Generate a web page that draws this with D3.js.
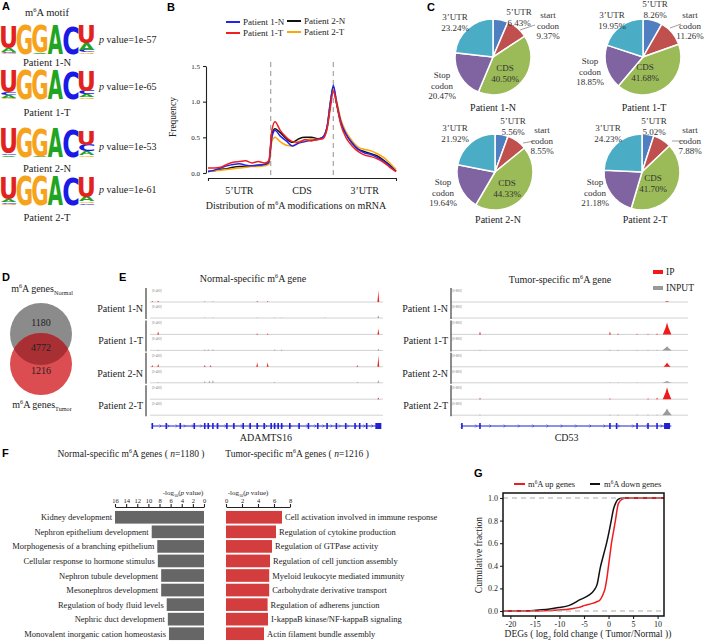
<!DOCTYPE html>
<html>
<head>
<meta charset="utf-8">
<script src="https://cdnjs.cloudflare.com/ajax/libs/d3/7.8.5/d3.min.js"></script>
<style>
  body { margin: 0; background: #fff; }
  svg { display: block; font-family: 'Liberation Serif', 'Times New Roman', serif; }
  text { fill: #222; }
  .tag { font-family: 'Liberation Sans', Arial, sans-serif; font-weight: bold; font-size: 11px; fill: #000; }
</style>
</head>
<body>
<div id="chart"></div>
<script>
// ---- A: motif logos, stacks listed bottom to top (share of column height)
var logoNames   = ['Patient 1-N', 'Patient 1-T', 'Patient 2-N', 'Patient 2-T'];
var logoPvalues = ['1e-57', '1e-65', '1e-53', '1e-61'];
var logo1N = [[['G',0.04],['C',0.04],['A',0.12],['U',0.78]], [['G',1]], [['A',0.04],['G',0.96]], [['A',1]], [['C',1]], [['G',0.06],['C',0.08],['A',0.22],['U',0.62]]];
var logo1T = [[['G',0.04],['A',0.08],['C',0.1],['U',0.76]], [['G',1]], [['G',1]], [['A',1]], [['C',1]], [['G',0.06],['A',0.1],['C',0.12],['U',0.7]]];
var logo2N = [[['A',0.06],['C',0.06],['U',0.86]], [['G',1]], [['A',0.03],['G',0.97]], [['A',1]], [['C',1]], [['G',0.06],['A',0.14],['C',0.22],['U',0.5]]];
var logo2T = [[['G',0.04],['C',0.05],['A',0.1],['U',0.79]], [['G',1]], [['G',1]], [['A',1]], [['C',1]], [['C',0.06],['G',0.06],['A',0.16],['U',0.68]]];

// ---- B: metagene profile (x in region units: 0-1 5'UTR, 1-2 CDS, 2-3 3'UTR)
var metaX  = [0,0.1,0.2,0.3,0.4,0.5,0.6,0.7,0.8,0.9,0.97,1.02,1.07,1.15,1.25,1.35,1.45,1.55,1.65,1.75,1.83,1.9,1.95,2.0,2.05,2.12,2.2,2.3,2.4,2.5,2.6,2.7,2.8,2.9,3.0];
var meta1N = [0.02,0.04,0.07,0.1,0.12,0.13,0.11,0.1,0.11,0.12,0.15,0.5,0.6,0.52,0.45,0.38,0.42,0.44,0.46,0.47,0.5,0.65,0.95,1.23,1.0,0.72,0.55,0.42,0.33,0.28,0.26,0.22,0.17,0.1,0.02];
var meta1T = [0.07,0.07,0.08,0.12,0.15,0.16,0.17,0.14,0.16,0.14,0.17,0.6,0.72,0.6,0.5,0.44,0.43,0.47,0.45,0.47,0.48,0.62,0.9,1.15,0.98,0.68,0.5,0.38,0.3,0.25,0.23,0.2,0.15,0.08,0.02];
var meta2N = [0.02,0.03,0.05,0.06,0.08,0.09,0.09,0.1,0.11,0.12,0.14,0.55,0.62,0.57,0.48,0.43,0.48,0.5,0.5,0.48,0.5,0.64,0.98,1.2,0.98,0.7,0.55,0.42,0.33,0.3,0.27,0.24,0.18,0.11,0.03];
var meta2T = [0.02,0.03,0.04,0.05,0.06,0.07,0.08,0.09,0.09,0.1,0.12,0.45,0.5,0.44,0.39,0.38,0.44,0.46,0.48,0.47,0.49,0.62,0.95,1.18,1.02,0.75,0.58,0.45,0.36,0.33,0.31,0.27,0.22,0.14,0.05];
var regionNames = ['5\u2019UTR', 'CDS', '3\u2019UTR'];

// ---- C: peak distribution (%), order: 5'UTR, start codon, CDS, stop codon, 3'UTR
var pieParts = ['5\u2019UTR', 'start codon', 'CDS', 'Stop codon', '3\u2019UTR'];
var pie1N = [6.43, 9.37, 40.50, 20.47, 23.24];
var pie1T = [8.26, 11.26, 41.68, 18.85, 19.95];
var pie2N = [5.56, 8.55, 44.33, 19.64, 21.92];
var pie2T = [5.02, 7.88, 41.70, 21.18, 24.23];

// ---- D: venn counts
var vennCounts = [1180, 4772, 1216];

// ---- E: IGV peaks [position 0-1, height 0-1, spread]
var adamIP = [
  [[0.01,0.08],[0.035,0.1],[0.235,0.05],[0.27,0.05],[0.46,0.08],[0.505,0.08],[0.98,1]],
  [[0.035,0.25],[0.46,0.08],[0.505,0.08],[0.98,0.5]],
  [[0.01,0.15],[0.035,0.25],[0.235,0.15],[0.26,0.15],[0.46,0.4],[0.505,0.4],[0.89,0.15],[0.98,1]],
  [[0.98,0.15]]
];
var adamInput = [
  [[0.235,0.05],[0.27,0.05],[0.46,0.05],[0.535,0.05],[0.565,0.05],[0.75,0.05],[0.98,0.25]],
  [[0.035,0.06],[0.235,0.08],[0.25,0.1],[0.27,0.1],[0.535,0.08],[0.565,0.08],[0.98,0.15]],
  [[0.035,0.06],[0.235,0.15],[0.255,0.2],[0.27,0.25],[0.535,0.08],[0.89,0.08],[0.98,0.25]],
  []
];
var cd53IP = [
  [[0.912,0.08,0.01]],
  [[0.126,0.25],[0.672,0.25],[0.706,0.08],[0.786,0.06],[0.832,0.06],[0.87,0.08],[0.912,1,0.018]],
  [[0.912,0.35,0.015]],
  [[0.126,0.12],[0.672,0.08],[0.832,0.08],[0.87,0.15],[0.912,1,0.018]]
];
var cd53Input = [
  [],
  [[0.126,0.05],[0.672,0.06],[0.706,0.06],[0.786,0.05],[0.832,0.05],[0.87,0.05],[0.912,0.35,0.02]],
  [[0.672,0.04],[0.706,0.04],[0.786,0.04],[0.912,0.15,0.02]],
  [[0.126,0.05],[0.672,0.05],[0.706,0.06],[0.786,0.05],[0.832,0.05],[0.87,0.05],[0.912,0.55,0.02]]
];
var adamExons = [0.01,0.07,0.13,0.19,0.235,0.25,0.27,0.29,0.33,0.36,0.4,0.43,0.46,0.49,0.52,0.535,0.55,0.565,0.6,0.64,0.68,0.72,0.76,0.8,0.84,0.88,0.9,0.93,0.98];
var cd53Exons = [0.05,0.126,0.672,0.7,0.786,0.832,0.87,0.912];

// ---- F: GO enrichment (-log10 p)
var normTerms  = ['Kidney development','Nephron epithelium development','Morphogenesis of a branching epithelium','Cellular response to hormone stimulus','Nephron tubule development','Mesonephros development','Regulation of body fluid levels','Nephric duct development','Monovalent inorganic cation homeostasis'];
var normValues = [16, 9.4, 8.4, 8.3, 7.7, 7.7, 6.7, 6.5, 6.3];
var tumorTerms  = ['Cell activation involved in immune response','Regulation of cytokine production','Regulation of GTPase activity','Regulation of cell junction assembly','Myeloid leukocyte mediated immunity','Carbohydrate derivative transport','Regulation of adherens junction','I-kappaB kinase/NF-kappaB signaling','Actin filament bundle assembly'];
var tumorValues = [7.0, 6.25, 5.75, 5.5, 5.4, 5.4, 5.2, 5.25, 4.75];
var normTicks  = [16,14,12,10,8,6,4,2,0];
var tumorTicks = [0,2,4,6,8];

// ---- G: cumulative distributions
var upX   = [-21.5,-14,-11.6,-9.5,-7.6,-6,-4.8,-3.5,-2.5,-1.7,-1.2,-0.7,-0.3,0,0.3,0.6,1.0,1.4,2.0,2.8,3.7,11.3];
var upY   = [0,0.001,0.005,0.01,0.02,0.032,0.05,0.065,0.08,0.1,0.14,0.2,0.3,0.4,0.5,0.6,0.7,0.8,0.95,0.99,1,1];
var downX = [-21.5,-16,-13.7,-12,-10.2,-8,-5.8,-4,-3,-2.3,-1.7,-1.0,-0.4,0.1,0.55,1.0,1.4,2.0,3,11.3];
var downY = [0,0.002,0.01,0.018,0.03,0.05,0.1,0.14,0.18,0.24,0.38,0.5,0.6,0.7,0.8,0.9,0.95,0.99,1,1];
var gTicksX = [-20,-15,-10,-5,0,5,10];
var gTicksY = [0,0.2,0.4,0.6,0.8,1];

var svg = d3.select('#chart').append('svg').attr('width', 708).attr('height', 644);
svg.append('rect').attr('width', 708).attr('height', 644).attr('fill', '#fff');

// text with sup/sub/italic pieces
var rich = function(g, x, y, parts, fs, anchor) {
  var t = g.append('text').attr('x', x).attr('y', y).attr('font-size', fs)
    .attr('text-anchor', anchor || 'start');
  var shift = 0;
  parts.forEach(function(p) {
    if (typeof p === 'string') p = {t: p};
    var target = p.sup ? -fs * 0.38 : p.sub ? fs * 0.28 : 0;
    var s = t.append('tspan').text(p.t).attr('dy', target - shift);
    shift = target;
    if (p.sup || p.sub) s.attr('font-size', fs * 0.62);
    if (p.it) s.attr('font-style', 'italic');
  });
  return t;
};
var m6A = function(before, after) {
  return [before + 'm', {t: '6', sup: true}, 'A' + after];
};
var styleAxis = function(sel, fs) {
  sel.attr('font-family', null).attr('font-size', fs);
  sel.selectAll('text').attr('fill', '#222');
  sel.selectAll('path, line').attr('stroke', '#222').attr('stroke-width', 1.1);
};
var tag = function(t, x, y) {
  svg.append('text').attr('class', 'tag').attr('x', x).attr('y', y).text(t);
};

tag('A', 2, 10); tag('B', 167, 11); tag('C', 427, 11); tag('D', 2, 281);
tag('E', 119, 281); tag('F', 2, 457); tag('G', 474, 477);

// ================= A
var gA = svg.append('g');
var letterColor = {U: '#e3221d', G: '#f6a31b', A: '#21a421', C: '#1a1ae6'};
var ctx = document.createElement('canvas').getContext('2d');
ctx.font = 'bold 100px "DejaVu Sans"';

var drawLogo = function(g, cols, x0, y0, w, h) {
  var x = d3.scaleBand().domain(d3.range(cols.length)).range([x0, x0 + w]).paddingInner(0.03);
  var y = d3.scaleLinear().domain([0, 1]).range([y0 + h, y0]);
  cols.forEach(function(stack, i) {
    var base = 0;
    stack.forEach(function(s) {
      var top = base + s[1];
      var m = ctx.measureText(s[0]);
      var iw = m.actualBoundingBoxLeft + m.actualBoundingBoxRight;
      var ih = m.actualBoundingBoxAscent + m.actualBoundingBoxDescent;
      g.append('text').text(s[0])
        .attr('x', m.actualBoundingBoxLeft).attr('y', m.actualBoundingBoxAscent)
        .attr('font-family', 'DejaVu Sans').attr('font-weight', 'bold').attr('font-size', 100)
        .style('fill', letterColor[s[0]])
        .attr('transform', 'translate(' + x(i) + ',' + y(top) + ') scale(' +
          (x.bandwidth() / iw) + ',' + ((y(base) - y(top)) / ih) + ')');
      base = top;
    });
  });
};

rich(gA, 47, 16, m6A('', ' motif'), 10.5, 'middle');
var logoTops = [25, 70, 128, 176];
var logoLabelY = [66, 116, 172, 221];
var logoPY = [43, 90, 150, 193];
[logo1N, logo1T, logo2N, logo2T].forEach(function(cols, i) {
  drawLogo(gA, cols, 1, logoTops[i], 93, 29);
  rich(gA, 47, logoLabelY[i], [logoNames[i]], 10.5, 'middle');
  rich(gA, 99, logoPY[i], [{t: 'p', it: true}, ' value=' + logoPvalues[i]], 10);
});

// ================= B
var gB = svg.append('g');
var bx = d3.scaleLinear().domain([0, 3]).range([208, 396]);
var by = d3.scaleLinear().domain([0, 1.5]).range([173, 66]);

gB.append('g').attr('transform', 'translate(206,0)')
  .call(d3.axisLeft(by).tickValues([0, 0.5, 1, 1.5]).tickFormat(d3.format('.1f')).tickSize(3).tickSizeOuter(0))
  .call(styleAxis, 7);
gB.append('g').attr('transform', 'translate(0,178)')
  .call(d3.axisBottom(bx).tickValues([0, 3]).tickFormat('').tickSize(3).tickSizeOuter(0))
  .call(styleAxis, 7);

gB.selectAll('.divider').data([1, 2]).enter().append('line')
  .attr('x1', function(d) { return bx(d); }).attr('x2', function(d) { return bx(d); })
  .attr('y1', 62).attr('y2', 178)
  .attr('stroke', '#aaa').attr('stroke-width', 1.3).attr('stroke-dasharray', '5,4');

regionNames.forEach(function(r, i) {
  rich(gB, bx(i + 0.5), 194, [r], 10, 'middle');
});
rich(gB, 296, 209, m6A('Distribution of ', ' modifications on mRNA'), 10, 'middle');
gB.append('text').attr('transform', 'translate(176,117) rotate(-90)')
  .attr('text-anchor', 'middle').attr('font-size', 9.5).text('Frequency');

var metaSeries = [
  {name: 'Patient 2-N', color: '#111', vals: meta2N},
  {name: 'Patient 2-T', color: '#ffa500', vals: meta2T},
  {name: 'Patient 1-N', color: '#2323f0', vals: meta1N},
  {name: 'Patient 1-T', color: '#ee2020', vals: meta1T}
];
var metaLine = d3.line()
  .x(function(d, i) { return bx(metaX[i]); })
  .y(function(d) { return by(d); })
  .curve(d3.curveMonotoneX);
gB.selectAll('.meta').data(metaSeries).enter().append('path')
  .attr('d', function(s) { return metaLine(s.vals); })
  .attr('fill', 'none').attr('stroke', function(s) { return s.color; }).attr('stroke-width', 1.5);

var legPos = {'Patient 1-N': [226, 22], 'Patient 1-T': [226, 33], 'Patient 2-N': [287, 21], 'Patient 2-T': [287, 32]};
metaSeries.forEach(function(s) {
  var p = legPos[s.name];
  gB.append('line').attr('x1', p[0]).attr('x2', p[0] + 14).attr('y1', p[1]).attr('y2', p[1])
    .attr('stroke', s.color).attr('stroke-width', 2);
  rich(gB, p[0] + 17, p[1] + 3, [s.name], 9);
});

// ================= C
var gC = svg.append('g');
var pieColors = ['#4f7fc0', '#c0504d', '#9bbb59', '#8064a2', '#4bacc6'];
var pieGen = d3.pie().sort(null).value(function(d) { return d; });
var pieArc = d3.arc().innerRadius(0).outerRadius(38);
var fmtPct = function(v) { return d3.format('.2f')(v) + '%'; };

var pies = [
  {name: 'Patient 1-N', vals: pie1N, c: [493, 57], label: [493, 111],
   pos: [[519, 12], [548, 15], [505, 68], [442, 75], [455, 17]], lead: [520, 30, 535, 25]},
  {name: 'Patient 1-T', vals: pie1T, c: [643, 57], label: [644, 111],
   pos: [[655, 4], [690, 15], [645, 67], [590, 61], [612, 15]], lead: [670, 28, 681, 24]},
  {name: 'Patient 2-N', vals: pie2N, c: [495, 172], label: [498, 223],
   pos: [[513, 121], [542, 130], [507, 183], [443, 182], [455, 128]], lead: [523, 143, 535, 141]},
  {name: 'Patient 2-T', vals: pie2T, c: [642, 172], label: [645, 223],
   pos: [[654, 121], [690, 130], [653, 178], [595, 182], [608, 128]], lead: [672, 141, 685, 141]}
];

pies.forEach(function(p) {
  var g = gC.append('g').attr('transform', 'translate(' + p.c[0] + ',' + p.c[1] + ')');
  g.selectAll('path').data(pieGen(p.vals)).enter().append('path')
    .attr('d', pieArc)
    .attr('fill', function(d, i) { return pieColors[i]; })
    .attr('stroke', '#fff').attr('stroke-width', 1.5);
  gC.append('line').attr('x1', p.lead[0]).attr('y1', p.lead[1]).attr('x2', p.lead[2]).attr('y2', p.lead[3])
    .attr('stroke', '#888').attr('stroke-width', 0.8);
  p.vals.forEach(function(v, i) {
    var lines = pieParts[i].split(' ').concat([fmtPct(v)]);
    lines.forEach(function(l, j) {
      gC.append('text').attr('x', p.pos[i][0]).attr('y', p.pos[i][1] + 3 + j * 10.5)
        .attr('text-anchor', 'middle').attr('font-size', 9).style('fill', '#333').text(l);
    });
  });
  rich(gC, p.label[0], p.label[1], [p.name], 10, 'middle');
});

// ================= D
var gD = svg.append('g');
gD.append('clipPath').attr('id', 'clipNormal').append('circle')
  .attr('cx', 41).attr('cy', 334).attr('r', 31);
gD.append('circle').attr('cx', 41).attr('cy', 334).attr('r', 31).attr('fill', '#8b8b8b');
gD.append('circle').attr('cx', 41).attr('cy', 364).attr('r', 31).attr('fill', '#db4d50');
gD.append('circle').attr('cx', 41).attr('cy', 364).attr('r', 31).attr('fill', '#a83034')
  .attr('clip-path', 'url(#clipNormal)');
var vennY = [326, 351, 374];
vennCounts.forEach(function(v, i) {
  rich(gD, 41, vennY[i], [String(v)], 10, 'middle');
});
rich(gD, 42, 292, ['m', {t: '6', sup: true}, 'A genes', {t: 'Normal', sub: true}], 10, 'middle');
rich(gD, 42, 408, ['m', {t: '6', sup: true}, 'A genes', {t: 'Tumor', sub: true}], 10, 'middle');

// ================= E
var gE = svg.append('g');
var peakH = d3.scaleLinear().domain([0, 1]).range([0, 12]);

var drawTracks = function(x0, x1, ipSets, inSets, scaleText, labelX, exons, geneName, geneFrom, geneTo, chevStep) {
  var tx = d3.scaleLinear().domain([0, 1]).range([x0, x1]);
  logoNames.forEach(function(name, i) {
    var base = 302 + i * 32.4;
    [[ipSets[i], base, '#f01a1a'], [inSets[i], base + 16, '#999']].forEach(function(tr) {
      gE.append('text').attr('x', x0 + 2).attr('y', tr[1] - 10).attr('font-size', 3.2)
        .style('fill', '#777').text(scaleText);
      gE.append('line').attr('x1', x0).attr('x2', x1).attr('y1', tr[1]).attr('y2', tr[1])
        .attr('stroke', '#d2d2d2').attr('stroke-width', 1);
      gE.selectAll(null).data(tr[0]).enter().append('path')
        .attr('d', function(d) {
          var cx = tx(d[0]), w = d[2] ? tx(d[2]) - tx(0) : 0.9, h = peakH(d[1]), b = tr[1];
          return 'M' + (cx - w) + ',' + b + 'L' + (cx - w * 0.35) + ',' + (b - h * 0.55) +
            'L' + cx + ',' + (b - h) + 'L' + (cx + w * 0.3) + ',' + (b - h * 0.6) +
            'L' + (cx + w) + ',' + b + 'Z';
        })
        .attr('fill', tr[2]);
    });
    gE.append('line').attr('x1', labelX + 3).attr('x2', labelX + 3)
      .attr('y1', base - 14).attr('y2', base + 17)
      .attr('stroke', '#666').attr('stroke-width', 1.5);
    rich(gE, labelX, base + 10, [name], 10, 'end');
  });
  // gene model
  var gy = 426;
  gE.append('line').attr('x1', tx(geneFrom)).attr('x2', tx(geneTo)).attr('y1', gy).attr('y2', gy)
    .attr('stroke', '#2020d0').attr('stroke-width', 1);
  gE.selectAll(null).data(d3.range(geneFrom, geneTo, chevStep)).enter().append('path')
    .attr('d', function(d) { var x = tx(d); return 'M' + (x - 1) + ',' + (gy - 1.5) + 'L' + (x + 0.5) + ',' + gy + 'L' + (x - 1) + ',' + (gy + 1.5); })
    .attr('fill', 'none').attr('stroke', '#2020d0').attr('stroke-width', 0.6);
  gE.selectAll(null).data(exons).enter().append('rect')
    .attr('x', function(d, i) { return tx(d) - (i === exons.length - 1 ? 3 : 0.8); })
    .attr('width', function(d, i) { return i === exons.length - 1 ? 6 : 1.6; })
    .attr('y', gy - 3).attr('height', 6).attr('fill', '#2020d0');
  rich(gE, (tx(geneFrom) + tx(geneTo)) / 2, 441, [geneName], 10, 'middle');
};

drawTracks(150, 383, adamIP, adamInput, '[0-400]', 143, adamExons, 'ADAMTS16', 0.01, 0.985, 0.035);
drawTracks(450, 688, cd53IP, cd53Input, '[0-800]', 448, cd53Exons, 'CD53', 0.05, 0.93, 0.06);

rich(gE, 253, 282, m6A('Normal-specific ', ' gene'), 10, 'middle');
rich(gE, 560, 283, m6A('Tumor-specific ', ' gene'), 10, 'middle');
gE.append('rect').attr('x', 653).attr('y', 270).attr('width', 10).attr('height', 4).attr('fill', '#f01a1a');
rich(gE, 666, 275, ['IP'], 9.5);
gE.append('rect').attr('x', 653).attr('y', 286).attr('width', 10).attr('height', 4).attr('fill', '#999');
rich(gE, 666, 291, ['INPUT'], 9.5);

// ================= F
var gF = svg.append('g');
rich(gF, 131, 457, ['Normal-specific m', {t: '6', sup: true}, 'A genes ( ', {t: 'n', it: true}, '=1180 )'], 9.5, 'middle');
rich(gF, 297, 457, ['Tumor-specific m', {t: '6', sup: true}, 'A genes ( ', {t: 'n', it: true}, '=1216 )'], 9.5, 'middle');

var fy = d3.scaleBand().domain(d3.range(9)).range([510, 641]).paddingInner(0.13).paddingOuter(0.065);
var fxL = d3.scaleLinear().domain([0, 16]).range([204, 115]);
var fxR = d3.scaleLinear().domain([0, 8]).range([226, 290]);

gF.append('g').attr('transform', 'translate(0,507)')
  .call(d3.axisTop(fxL).tickValues(normTicks).tickSize(3).tickSizeOuter(0).tickPadding(1))
  .call(styleAxis, 6.5);
gF.append('g').attr('transform', 'translate(0,507)')
  .call(d3.axisTop(fxR).tickValues(tumorTicks).tickSize(3).tickSizeOuter(0).tickPadding(1))
  .call(styleAxis, 6.5);
rich(gF, 183, 495, ['-log', {t: '10', sub: true}, '(', {t: 'p', it: true}, ' value)'], 7, 'middle');
rich(gF, 248, 495, ['-log', {t: '10', sub: true}, '(', {t: 'p', it: true}, ' value)'], 7, 'middle');

gF.selectAll('.barN').data(normValues).enter().append('rect')
  .attr('x', function(d) { return fxL(d); }).attr('width', function(d) { return fxL(0) - fxL(d); })
  .attr('y', function(d, i) { return fy(i); }).attr('height', fy.bandwidth())
  .attr('fill', '#666');
gF.selectAll('.barT').data(tumorValues).enter().append('rect')
  .attr('x', fxR(0)).attr('width', function(d) { return fxR(d) - fxR(0); })
  .attr('y', function(d, i) { return fy(i); }).attr('height', fy.bandwidth())
  .attr('fill', '#d43d3e');
normTerms.forEach(function(t, i) {
  rich(gF, fxL(normValues[i]) - 3, fy(i) + fy.bandwidth() / 2 + 3, [t], 8.5, 'end');
});
tumorTerms.forEach(function(t, i) {
  rich(gF, fxR(tumorValues[i]) + 3, fy(i) + fy.bandwidth() / 2 + 3, [t], 8.5, 'start');
});

// ================= G
var gG = svg.append('g');
var gx = d3.scaleLinear().domain([-21.5, 11.3]).range([503, 664]);
var gyS = d3.scaleLinear().domain([0, 1]).range([611, 498]);

gG.append('g').attr('transform', 'translate(503,0)')
  .call(d3.axisLeft(gyS).tickValues(gTicksY).tickFormat(d3.format('.1f')).tickSize(3).tickPadding(2))
  .call(styleAxis, 8)
  .call(function(s) { s.select('.domain').remove(); });
gG.append('g').attr('transform', 'translate(0,616)')
  .call(d3.axisBottom(gx).tickValues(gTicksX).tickFormat(function(d) { return String(d); }).tickSize(3).tickPadding(2))
  .call(styleAxis, 8)
  .call(function(s) { s.select('.domain').remove(); });

var cdfLine = function(xs) {
  return d3.line().x(function(d, i) { return gx(xs[i]); }).y(function(d) { return gyS(d); })
    .curve(d3.curveMonotoneX);
};
gG.append('path').attr('d', cdfLine(downX)(downY)).attr('fill', 'none').attr('stroke', '#111').attr('stroke-width', 1.5);
gG.append('path').attr('d', cdfLine(upX)(upY)).attr('fill', 'none').attr('stroke', '#ee1c1f').attr('stroke-width', 1.5);
gG.selectAll('.ref').data([0, 1]).enter().append('line')
  .attr('x1', 503).attr('x2', 664)
  .attr('y1', function(d) { return gyS(d); }).attr('y2', function(d) { return gyS(d); })
  .attr('stroke', '#aaa').attr('stroke-width', 1.2).attr('stroke-dasharray', '5,4');
gG.append('rect').attr('x', 503).attr('y', 493).attr('width', 161).attr('height', 123)
  .attr('fill', 'none').attr('stroke', '#111').attr('stroke-width', 1.5);

gG.append('line').attr('x1', 514).attr('x2', 525).attr('y1', 484).attr('y2', 484).attr('stroke', '#ee1c1f').attr('stroke-width', 2);
rich(gG, 528, 487, m6A('', ' up genes'), 8.5);
gG.append('line').attr('x1', 590).attr('x2', 600).attr('y1', 484).attr('y2', 484).attr('stroke', '#111').attr('stroke-width', 2);
rich(gG, 604, 487, m6A('', ' down genes'), 8.5);

gG.append('text').attr('transform', 'translate(482,555) rotate(-90)')
  .attr('text-anchor', 'middle').attr('font-size', 9.5).text('Cumulative fraction');
rich(gG, 588, 637, ['DEGs ( log', {t: '2', sub: true}, ' fold change ( Tumor/Normal ))'], 9.5, 'middle');
</script>
</body>
</html>
